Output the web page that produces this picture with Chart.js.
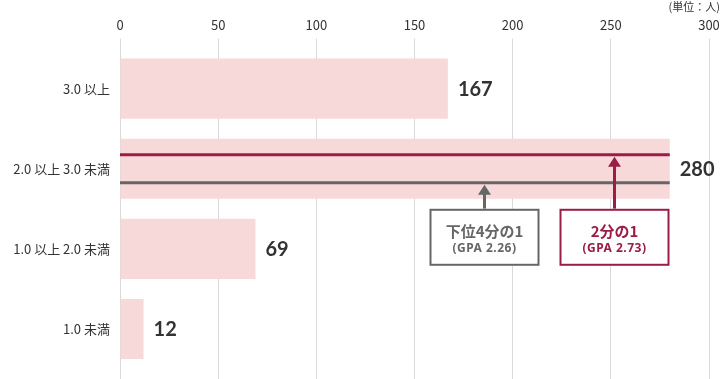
<!DOCTYPE html>
<html>
<head>
<meta charset="utf-8">
<script src="https://cdn.jsdelivr.net/npm/chart.js@4/dist/chart.umd.min.js"></script>
<style>
  html, body { margin: 0; padding: 0; background: #fff; }
  #wrap { position: relative; width: 722px; height: 379px; }
  #unit { position: absolute; right: 2px; top: 0px; font: 11px "Noto Sans CJK JP", sans-serif; color: #333; line-height: 13px; }
</style>
</head>
<body>
<div id="wrap">
  <canvas id="c" width="722" height="379"></canvas>
  <div id="unit">(単位：人)</div>
</div>
<script>
// ---- data ----
const categories = ["3.0 以上", "2.0 以上 3.0 未満", "1.0 以上 2.0 未満", "1.0 未満"];
const counts = [167, 280, 69, 12];
const xTicks = [0, 50, 100, 150, 200, 250, 300];
const markerTitles = ["下位4分の1", "2分の1"];
const markerSubs = ["(GPA 2.26)", "(GPA 2.73)"];
const markerX = [185.3, 251.6];
const markerCategory = 1;

const PINK = "#f8d9d9";
const CRIMSON = "#9b1c47";
const GRAY = "#666666";
const markerColors = [GRAY, CRIMSON];
const markerLineOffset = [14, -14];

const annotate = {
  id: "annotate",
  afterDatasetsDraw(chart) {
    const ctx = chart.ctx;
    const xs = chart.scales.x;
    const meta = chart.getDatasetMeta(0);
    ctx.save();
    ctx.font = "bold 20px Lato, 'Noto Sans', sans-serif";
    ctx.fillStyle = "#333";
    ctx.textAlign = "left";
    ctx.textBaseline = "middle";
    meta.data.forEach((bar, i) => {
      ctx.fillText(String(counts[i]), bar.x + 10, bar.y + 1);
    });
    ctx.restore();

    const bar = meta.data[markerCategory];
    const barBottom = bar.y + bar.height / 2;
    const x0 = xs.getPixelForValue(0);
    const xEnd = xs.getPixelForValue(counts[markerCategory]);
    markerX.forEach((v, i) => {
      const col = markerColors[i];
      const ly = bar.y + markerLineOffset[i];
      ctx.save();
      ctx.strokeStyle = col;
      ctx.lineWidth = 3;
      ctx.beginPath();
      ctx.moveTo(x0, ly);
      ctx.lineTo(xEnd, ly);
      ctx.stroke();
      const ax = Math.round(xs.getPixelForValue(v)) + 0.5;
      const boxTop = barBottom + 10;
      const tipY = ly + 2;
      const headH = 10;
      ctx.lineWidth = 3;
      ctx.beginPath();
      ctx.moveTo(ax, boxTop);
      ctx.lineTo(ax, tipY + headH - 1);
      ctx.stroke();
      ctx.fillStyle = col;
      ctx.beginPath();
      ctx.moveTo(ax, tipY);
      ctx.lineTo(ax - 6.5, tipY + headH);
      ctx.lineTo(ax + 6.5, tipY + headH);
      ctx.closePath();
      ctx.fill();
      const bw = 110, bh = 57;
      const bx = ax - bw / 2;
      ctx.fillStyle = "#fff";
      ctx.fillRect(bx, boxTop, bw, bh);
      ctx.lineWidth = 2;
      ctx.strokeRect(bx + 1, boxTop + 1, bw - 2, bh - 2);
      ctx.fillStyle = col;
      ctx.textAlign = "center";
      ctx.textBaseline = "middle";
      ctx.font = "bold 15px 'Noto Sans CJK JP', sans-serif";
      ctx.fillText(markerTitles[i], ax, boxTop + 23);
      ctx.font = "bold 12px 'Noto Sans', sans-serif";
      ctx.letterSpacing = "0.5px";
      ctx.fillText(markerSubs[i], ax, boxTop + 40);
      ctx.restore();
    });
  }
};

const zeroPad = s => { s.paddingLeft = 0; s.paddingRight = 0; s.paddingTop = 0; s.paddingBottom = 0; };

new Chart(document.getElementById("c"), {
  type: "bar",
  data: {
    labels: categories,
    datasets: [{
      data: counts,
      backgroundColor: PINK,
      borderWidth: 0,
      barPercentage: 0.75,
      categoryPercentage: 1.0
    }]
  },
  options: {
    indexAxis: "y",
    responsive: false,
    animation: false,
    layout: { padding: { top: 11, right: 13, left: 0, bottom: 0 } },
    plugins: { legend: { display: false }, tooltip: { enabled: false } },
    scales: {
      x: {
        position: "top",
        min: 0, max: 300,
        afterBuildTicks: s => { s.ticks = xTicks.map(v => ({ value: v })); },
        afterFit: zeroPad,
        ticks: { color: "#333", padding: 6, maxRotation: 0, font: { family: "'Noto Sans CJK JP', sans-serif", size: 13 } },
        grid: { color: "#d9d9d9", lineWidth: 1, tickLength: 10 },
        border: { display: false }
      },
      x2: {
        position: "bottom",
        axis: "x",
        min: 0, max: 300,
        afterBuildTicks: s => { s.ticks = xTicks.map(v => ({ value: v })); },
        afterFit: zeroPad,
        ticks: { display: false },
        grid: { color: "#d9d9d9", lineWidth: 1, tickLength: 10, drawOnChartArea: false },
        border: { display: false }
      },
      y: {
        afterFit: s => { s.width = 120; zeroPad(s); },
        ticks: { color: "#333", padding: 10, font: { family: "'Noto Sans CJK JP', sans-serif", size: 13 } },
        grid: { display: false, drawTicks: false },
        border: { display: false }
      }
    }
  },
  plugins: [annotate]
});
</script>
</body>
</html>
